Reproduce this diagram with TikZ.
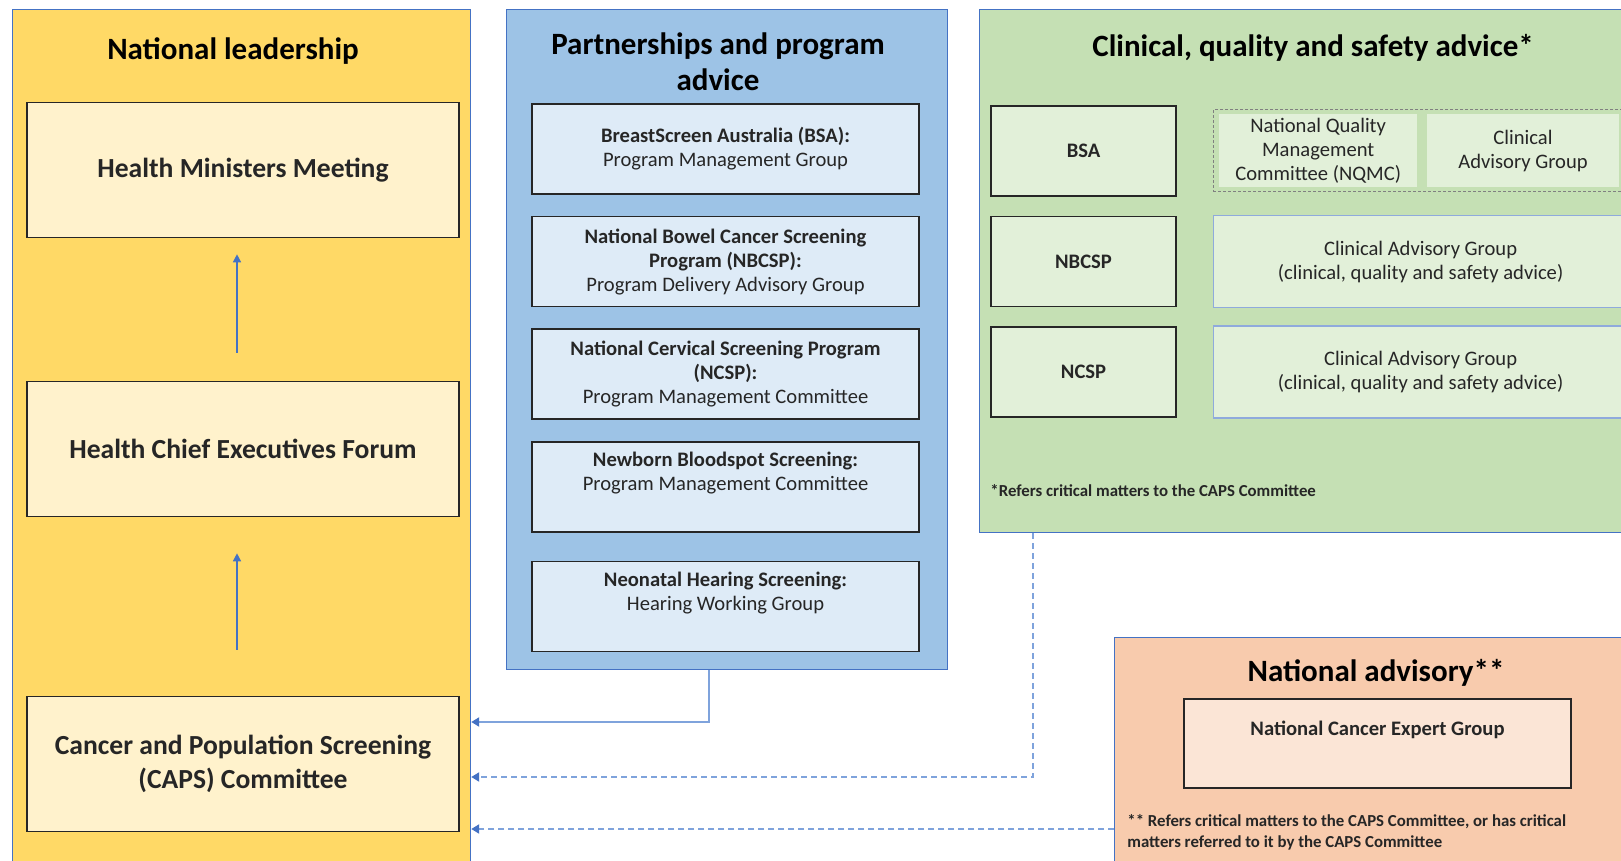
\documentclass[tikz,border=0pt]{standalone}
\usepackage{fontspec}
\setmainfont{Carlito}
\usetikzlibrary{positioning,arrows.meta}
\definecolor{leadfill}{HTML}{FFD966}
\definecolor{leadlight}{HTML}{FFF2CC}
\definecolor{partfill}{HTML}{9DC3E6}
\definecolor{partlight}{HTML}{DEEBF7}
\definecolor{clinfill}{HTML}{C5E0B4}
\definecolor{clinlight}{HTML}{E2F0D9}
\definecolor{advfill}{HTML}{F8CBAD}
\definecolor{advlight}{HTML}{FBE5D6}
\definecolor{edgeblue}{HTML}{4472C4}
\definecolor{linkblue}{HTML}{7FA3DC}
\definecolor{paleblue}{HTML}{8FAADC}
\definecolor{boxline}{HTML}{262626}
\newcommand{\titlefont}{\fontsize{15.5}{18}\selectfont\bfseries}
\newcommand{\leadfont}{\fontsize{13.8}{17}\selectfont\bfseries}
\newcommand{\cellfont}{\fontsize{10.3}{12}\selectfont}
\newcommand{\footfont}{\fontsize{8.4}{10.5}\selectfont\bfseries}
\tikzset{
  panel/.style={draw=edgeblue, line width=0.6pt, anchor=north west, inner sep=0pt},
  paneltitle/.style={font=\titlefont, align=center, inner sep=0pt, text=black},
  cell/.style={draw=boxline, line width=0.8pt, align=center, inner sep=0pt, text=boxline, font=\cellfont},
  leadcell/.style={cell, fill=leadlight, minimum width=216pt, minimum height=67.5pt, font=\leadfont},
  partcell/.style={cell, fill=partlight, minimum width=193.5pt, minimum height=45pt},
  clincell/.style={cell, fill=clinlight, minimum width=92.5pt, minimum height=45pt, font=\cellfont\bfseries},
  clinwide/.style={cell, draw=paleblue, fill=clinlight, minimum width=207pt, minimum height=46pt},
  clininner/.style={fill=clinlight, align=center, inner sep=0pt, text=boxline, font=\cellfont, minimum height=36.5pt},
  advcell/.style={cell, fill=advlight, minimum width=193.5pt, minimum height=44.5pt, font=\cellfont\bfseries},
  notetext/.style={font=\footfont, align=left, inner sep=0pt, anchor=west, text=boxline},
  uparrow/.style={draw=edgeblue, line width=0.7pt, -{Triangle[width=4pt,length=4pt]}},
  solidlink/.style={draw=linkblue, line width=1pt, -{Triangle[width=4.5pt,length=4pt,color=edgeblue]}},
  dashlink/.style={solidlink, dash pattern=on 3pt off 2pt}
}
\begin{document}
\begin{tikzpicture}[x=0.5pt,y=-0.5pt]
\useasboundingbox (0,0) rectangle (1621,861);
\clip (0,0) rectangle (1621,861);
\fill[white] (0,0) rectangle (1621,861);

% the four panels
\node[panel, fill=leadfill, minimum width=229pt, minimum height=431pt] (leader) at (12,9) {};
\node[panel, fill=partfill, minimum width=220.5pt, minimum height=330pt] (partners) at (506,9) {};
\node[panel, fill=clinfill, minimum width=331pt, minimum height=261.5pt] (clinical) at (979,9) {};
\node[panel, fill=advfill, minimum width=263pt, minimum height=117pt] (advisory) at (1114,637) {};

\node[paneltitle] (leadtitle) at (233,51) {National leadership};
\node[paneltitle] (parttitle) at (718,62) {Partnerships and program\\advice};
\node[paneltitle] (clintitle) at (1313,48) {Clinical, quality and safety advice*};
\node[paneltitle] (advtitle) at (1376,673) {National advisory**};

% national leadership
\node[leadcell] (hmm) at (243,170) {Health Ministers Meeting};
\node[leadcell] (hcef) at (243,449) {Health Chief Executives Forum};
\node[leadcell] (caps) at (243,764) {Cancer and Population Screening\\(CAPS) Committee};
\draw[uparrow, shorten <=14pt, shorten >=8pt] ([xshift=-3pt]hcef.north) -- ([xshift=-3pt]hmm.south);
\draw[uparrow, shorten <=23pt, shorten >=18pt] ([xshift=-3pt]caps.north) -- ([xshift=-3pt]hcef.south);

% partnerships and program advice
\node[partcell] (bsa) at (725.5,149) {\textbf{BreastScreen Australia (BSA):}\\Program Management Group};
\node[partcell, below=10.5pt of bsa] (nbcsp) {\textbf{National Bowel Cancer Screening}\\\textbf{Program (NBCSP):}\\Program Delivery Advisory Group};
\node[partcell, below=10.5pt of nbcsp] (ncsp) {\textbf{National Cervical Screening Program}\\\textbf{(NCSP):}\\Program Management Committee};
\node[partcell, below=10.5pt of ncsp] (newborn) {\textbf{Newborn Bloodspot Screening:}\\Program Management Committee\\\strut};
\node[partcell, below=14pt of newborn] (neonatal) {\textbf{Neonatal Hearing Screening:}\\Hearing Working Group\\\strut};

% clinical, quality and safety advice
\node[clincell] (cbsa) at (1083.5,151) {BSA};
\node[clincell, below=9.5pt of cbsa] (cnbcsp) {NBCSP};
\node[clincell, below=9.5pt of cnbcsp] (cncsp) {NCSP};
\node[draw=gray, line width=0.5pt, dash pattern=on 1.5pt off 1pt, minimum width=207pt, minimum height=41pt, inner sep=0pt, right=18pt of cbsa] (bsagroup) {};
\node[clininner, minimum width=99pt, anchor=west] (nqmc) at ([xshift=3pt]bsagroup.west) {National Quality\\Management\\Committee (NQMC)};
\node[clininner, minimum width=96pt, right=4.5pt of nqmc] (bsacag) {Clinical\\Advisory Group};
\node[clinwide, right=18pt of cnbcsp] (nbcspcag) {Clinical Advisory Group\\(clinical, quality and safety advice)};
\node[clinwide, right=18pt of cncsp] (ncspcag) {Clinical Advisory Group\\(clinical, quality and safety advice)};
\node[notetext] (clinnote) at (990,491) {*Refers critical matters to the CAPS Committee};

% national advisory
\node[advcell] (nceg) at (1377.5,743.5) {National Cancer Expert Group\\\strut};
\node[notetext] (advnote) at (1127,832.5) {** Refers critical matters to the CAPS Committee, or has critical\\matters referred to it by the CAPS Committee};

% links to the CAPS Committee
\coordinate (partbend) at (709,722);
\coordinate (clinbend) at (1033,777);
\coordinate (advstart) at (1114,829);
\draw[solidlink] (partners.south -| partbend) -- (partbend) -- (leader.east |- partbend);
\draw[dashlink] (clinical.south -| clinbend) -- (clinbend) -- (leader.east |- clinbend);
\draw[dashlink] (advstart) -- (leader.east |- advstart);
\end{tikzpicture}
\end{document}
